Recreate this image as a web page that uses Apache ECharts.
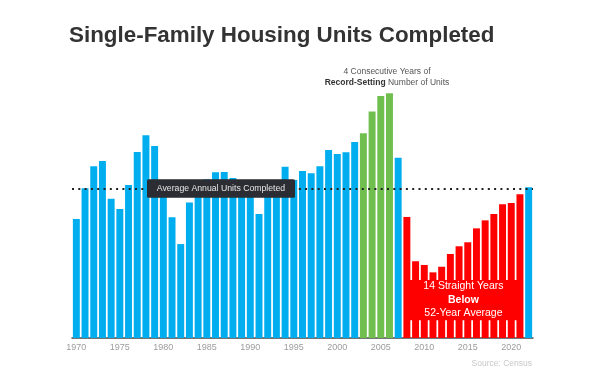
<!DOCTYPE html>
<html>
<head>
<meta charset="utf-8">
<script src="https://cdn.jsdelivr.net/npm/echarts@6/dist/echarts.min.js"></script>
<style>
html,body{margin:0;padding:0;background:#fff;}
#chart{width:600px;height:382px;}
</style>
</head>
<body>
<div id="chart"></div>
<script>
// Years (categories)
const years = ['1970','1971','1972','1973','1974','1975','1976','1977','1978','1979',
  '1980','1981','1982','1983','1984','1985','1986','1987','1988','1989',
  '1990','1991','1992','1993','1994','1995','1996','1997','1998','1999',
  '2000','2001','2002','2003','2004','2005','2006','2007','2008','2009',
  '2010','2011','2012','2013','2014','2015','2016','2017','2018','2019',
  '2020','2021','2022'];
// Single-family units completed (thousands)
const completed = [803,1010,1159,1195,940,871,1033,1255,1369,1296,
  957,815,634,915,1025,1072,1118,1120,1080,1026,
  966,837,964,1039,1156,1066,1127,1112,1159,1269,
  1242,1253,1323,1382,1528,1634,1652,1217,817,518,
  493,443,481,567,619,646,740,794,837,902,
  911,970,1017];
const averageValue = [1006];
const recordYears = ['2003','2004','2005','2006'];
const belowYears = ['2008','2009','2010','2011','2012','2013','2014','2015','2016','2017','2018','2019','2020','2021'];
const tickYears = ['1970','1975','1980','1985','1990','1995','2000','2005','2010','2015','2020'];

const BLUE = '#00aeef', GREEN = '#70bf4e', RED = '#ff0000';
const FONT = '"Liberation Sans", Arial, sans-serif';

const chart = echarts.init(document.getElementById('chart'), null, {renderer: 'canvas'});

const barData = years.map((y, i) => ({
  value: completed[i],
  itemStyle: {color: recordYears.includes(y) ? GREEN : (belowYears.includes(y) ? RED : BLUE)}
}));

chart.setOption({
  animation: false,
  backgroundColor: '#fff',
  grid: {left: 72, right: 67, top: 71.3, bottom: 44},
  xAxis: {
    type: 'category',
    data: years,
    axisTick: {show: false},
    axisLine: {lineStyle: {color: '#4a4a4a', width: 1.5}},
    axisLabel: {
      interval: (idx, val) => tickYears.includes(val),
      color: '#9c9c9c', fontSize: 9, fontFamily: FONT, margin: 5
    }
  },
  yAxis: {type: 'value', min: 0, max: 1800, show: false, splitLine: {show: false}},
  series: [
    {
      type: 'bar',
      data: barData,
      barCategoryGap: '20%',
      z: 2,
      markLine: {
        silent: true,
        symbol: ['none', 'none'],
        label: {show: false},
        lineStyle: {color: '#222', width: 2.2, type: [2, 4.3], opacity: 1},
        data: [{yAxis: averageValue[0]}],
        z: 6
      }
    },
    {
      type: 'line',
      data: [],
      z: 4,
      silent: true,
      markArea: {
        silent: true,
        z: 10,
        itemStyle: {color: RED},
        label: {
          show: true,
          position: 'inside',
          color: '#fff',
          fontFamily: FONT,
          fontSize: 10.5,
          lineHeight: 13.5,
          formatter: '14 Straight Years\n{b|Below}\n52-Year Average',
          rich: {b: {fontWeight: 'bold', fontSize: 10.5, color: '#fff', lineHeight: 13.5, fontFamily: FONT}}
        },
        data: [[{xAxis: '2008', yAxis: 120}, {xAxis: '2021', yAxis: 392}]]
      }
    }
  ],
  graphic: [
    {
      type: 'text', left: 69, top: 25, z: 100,
      style: {text: 'Single-Family Housing Units Completed', font: 'bold 22.4px ' + FONT, fill: '#333'}
    },
    {
      type: 'text', x: 387, y: 77, z: 100,
      style: {
        text: '4 Consecutive Years of\n{b|Record-Setting} Number of Units',
        fontSize: 8.5, fontFamily: FONT, fill: '#555', align: 'center', verticalAlign: 'middle', lineHeight: 10.5,
        rich: {b: {fontWeight: 'bold', fill: '#333', fontSize: 8.5, fontFamily: FONT}}
      }
    },
    {
      type: 'rect', z: 100,
      shape: {x: 147, y: 179.3, width: 148, height: 18.5, r: 1.5}, style: {fill: '#2b2d32'}
    },
    {
      type: 'text', z: 101, x: 221, y: 188.8,
      style: {text: 'Average Annual Units Completed', fontSize: 8.7, fontFamily: FONT, fill: '#e8e8e8', align: 'center', verticalAlign: 'middle'}
    },
    {
      type: 'text', right: 68, top: 359, z: 100,
      style: {text: 'Source: Census', fontSize: 8.5, fontFamily: FONT, fill: '#c8c8c8'}
    }
  ]
});
</script>
</body>
</html>
